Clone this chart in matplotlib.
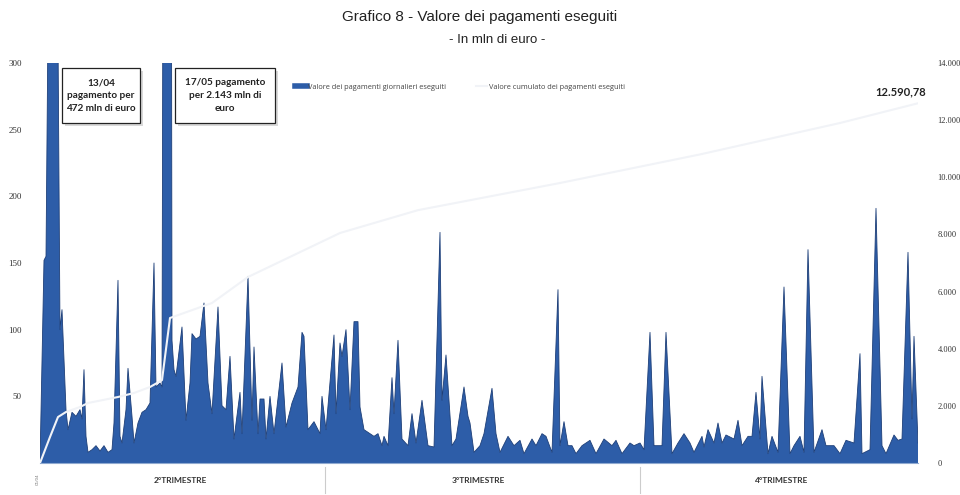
import matplotlib
matplotlib.use("Agg")
import matplotlib.pyplot as plt
from matplotlib.lines import Line2D
from matplotlib.patches import Rectangle
import matplotlib.transforms as mtransforms

# posizione progressiva lungo l'asse (apr-dic) e valori giornalieri, mln di euro
giorni = [
    0, 2, 3, 4, 6, 9, 10, 11, 13, 14, 16, 18, 20, 21, 22, 23, 24, 26, 28, 30,
    32, 34, 36, 37, 39, 40, 41, 43, 44, 46, 47, 49, 51, 53, 55, 57, 58, 60, 61, 64,
    66, 67, 68, 71, 73, 75, 76, 78, 80, 82, 84, 86, 89, 91, 93, 95, 97, 100, 101, 104,
    106, 107, 109, 110, 112, 113, 115, 117, 121, 123, 126, 129, 131, 132, 134, 137, 140, 141, 143, 147,
    148, 150, 151, 153, 155, 157, 159, 160, 162, 165, 167, 169, 171, 172, 174, 176, 177, 179, 181, 184,
    186, 188, 191, 194, 197, 200, 201, 203, 206, 208, 212, 214, 215, 217, 220, 222, 226, 228, 230, 234,
    237, 240, 242, 246, 248, 251, 253, 256, 259, 260, 262, 264, 266, 268, 271, 275, 278, 282, 286, 288,
    291, 295, 297, 300, 302, 305, 307, 311, 313, 316, 319, 322, 325, 327, 331, 332, 334, 337, 339, 341,
    343, 347, 349, 351, 354, 356, 358, 360, 361, 364, 366, 369, 372, 375, 377, 380, 382, 384, 387, 391,
    393, 397, 400, 403, 407, 410, 411, 415, 418, 421, 423, 427, 429, 431, 434, 436, 437, 439,
]
valori = [
    0, 152, 155, 330, 472, 320, 100, 115, 40, 25, 38, 35, 40, 33, 70, 20, 8, 10, 13, 9,
    13, 8, 10, 30, 137, 20, 15, 40, 71, 35, 15, 30, 38, 40, 45, 150, 57, 60, 57, 2143,
    92, 70, 65, 102, 32, 60, 97, 93, 95, 120, 60, 37, 117, 43, 40, 80, 18, 53, 22, 140,
    32, 87, 22, 48, 48, 18, 50, 22, 75, 27, 45, 57, 98, 95, 25, 31, 22, 50, 25, 96,
    37, 90, 80, 100, 40, 106, 106, 42, 25, 22, 20, 22, 13, 20, 13, 64, 37, 92, 18, 13,
    37, 15, 47, 13, 12, 173, 47, 81, 13, 18, 57, 35, 30, 8, 13, 22, 56, 22, 8, 20,
    13, 17, 7, 18, 13, 22, 20, 8, 130, 13, 31, 13, 13, 7, 13, 17, 7, 18, 13, 17,
    7, 15, 13, 15, 10, 98, 13, 13, 98, 7, 15, 22, 15, 8, 20, 12, 25, 15, 30, 15,
    21, 18, 32, 13, 20, 20, 53, 18, 65, 7, 20, 8, 132, 7, 13, 20, 8, 160, 8, 25,
    13, 13, 7, 17, 15, 82, 7, 10, 191, 13, 7, 21, 17, 18, 158, 33, 95, 15,
]

# valore cumulato (scala destra)
giorni_cum = [0, 5, 9, 13, 20, 24, 39, 47, 55, 61, 65, 86, 104, 150, 189, 260, 330, 400, 439]
cumulato = [0, 910, 1610, 1785, 1960, 2100, 2310, 2450, 2660, 2900, 5075, 5600, 6510,
            8050, 8850, 9800, 10800, 11900, 12590.78]

trimestri = ["2°TRIMESTRE", "3°TRIMESTRE", "4°TRIMESTRE"]
centro_trimestri = [70, 219, 371]
fine_trimestri = [142.5, 300]

tick_sx = [50, 100, 150, 200, 250, 300]
tick_dx = [0, 2000, 4000, 6000, 8000, 10000, 12000, 14000]

BLU = "#2d5da8"
LINEA = "#f1f3f7"

fig = plt.figure(figsize=(9.6, 4.95), dpi=100)
ax = fig.add_axes([40 / 960, 1 - 463 / 495, 878 / 960, 400 / 495])

ax.fill_between(giorni, valori, color=BLU, lw=0)
ax.plot(giorni, valori, color="#1e3f78", lw=0.6)
ax.set_xlim(0, 439)
ax.set_ylim(0, 300)
ax.set_yticks(tick_sx)
ax.set_yticklabels([str(t) for t in tick_sx], family="Liberation Serif", fontsize=6.5, color="#333333")
ax.tick_params(axis="y", length=0, pad=13)
ax.set_xticks([])
for s in ["left", "right", "top"]:
    ax.spines[s].set_visible(False)
ax.spines["bottom"].set_color("#8fa9d0")
ax.spines["bottom"].set_linewidth(0.8)

ax2 = ax.twinx()
ax2.plot(giorni_cum, cumulato, color=LINEA, lw=1.5)
ax2.set_ylim(0, 14000)
ax2.set_yticks(tick_dx)
ax2.set_yticklabels([f"{t:,}".replace(",", ".") for t in tick_dx],
                    family="Liberation Serif", fontsize=6, color="#333333")
ax2.tick_params(axis="y", length=0, pad=14)
for s in ["left", "right", "top", "bottom"]:
    ax2.spines[s].set_visible(False)

# etichette dei trimestri sotto l'asse
trans = mtransforms.blended_transform_factory(ax.transData, ax.transAxes)
for nome, c in zip(trimestri, centro_trimestri):
    ax.text(c, -0.043, nome, transform=trans, ha="center", va="center",
            family="Lato", fontweight="bold", fontsize=6, color="#333333")
for f in fine_trimestri:
    ax.plot([f, f], [-0.01, -0.075], transform=trans, color="#cccccc", lw=0.8, clip_on=False)
ax.text(-1, -0.04, "01/04", transform=trans, rotation=90, ha="center", va="center",
        fontsize=3, color="#777777")

# riquadri di commento
note = [
    ("13/04\npagamento per\n472 mln di euro", 62, 140),
    ("17/05 pagamento\nper 2.143 mln di\neuro", 175, 275),
]
for testo, x0, x1 in note:
    ax0 = (x0 - 40) / 878
    aw = (x1 - x0) / 878
    ay = (463 - 123) / 400
    ah = 55 / 400
    ax.add_patch(Rectangle((ax0 + 0.003, ay - 0.008), aw, ah, transform=ax.transAxes,
                           facecolor="#d9d9d9", edgecolor="none", clip_on=False, zorder=4))
    ax.add_patch(Rectangle((ax0, ay), aw, ah, transform=ax.transAxes,
                           facecolor="white", edgecolor="#222222", lw=0.9, clip_on=False, zorder=5))
    ax.text(ax0 + aw / 2, ay + ah / 2, testo, transform=ax.transAxes, ha="center", va="center",
            family="Lato", fontweight="bold", fontsize=7.2, color="#222222",
            linespacing=1.55, zorder=6)

handles = [Line2D([], [], color=BLU, lw=4), Line2D([], [], color=LINEA, lw=1.5)]
etichette = ["Valore dei pagamenti giornalieri eseguiti", "Valore cumulato dei pagamenti eseguiti"]
leg = ax.legend(handles, etichette, ncol=2, loc="center left", bbox_to_anchor=(0.2904, 0.94),
                frameon=False, borderpad=0, borderaxespad=0, handlelength=1.6,
                handletextpad=0.2, columnspacing=4,
                prop={"family": "Open Sans", "size": 5.3})
for t in leg.get_texts():
    t.set_color("#444444")
leg.set_zorder(7)

fig.text(0.5, 1 - 17 / 495, "Grafico 8 - Valore dei pagamenti eseguiti", ha="center", va="center",
         family="Liberation Sans", fontsize=11, color="#222222")
fig.text(497 / 960, 1 - 40 / 495, "- In mln di euro -", ha="center", va="center",
         family="Liberation Sans", fontsize=9.5, color="#222222")
fig.text(901 / 960, 1 - 92 / 495, "12.590,78", ha="center", va="center",
         family="Lato", fontweight="bold", fontsize=8, color="#222222")

fig.savefig("out.png", dpi=100)
